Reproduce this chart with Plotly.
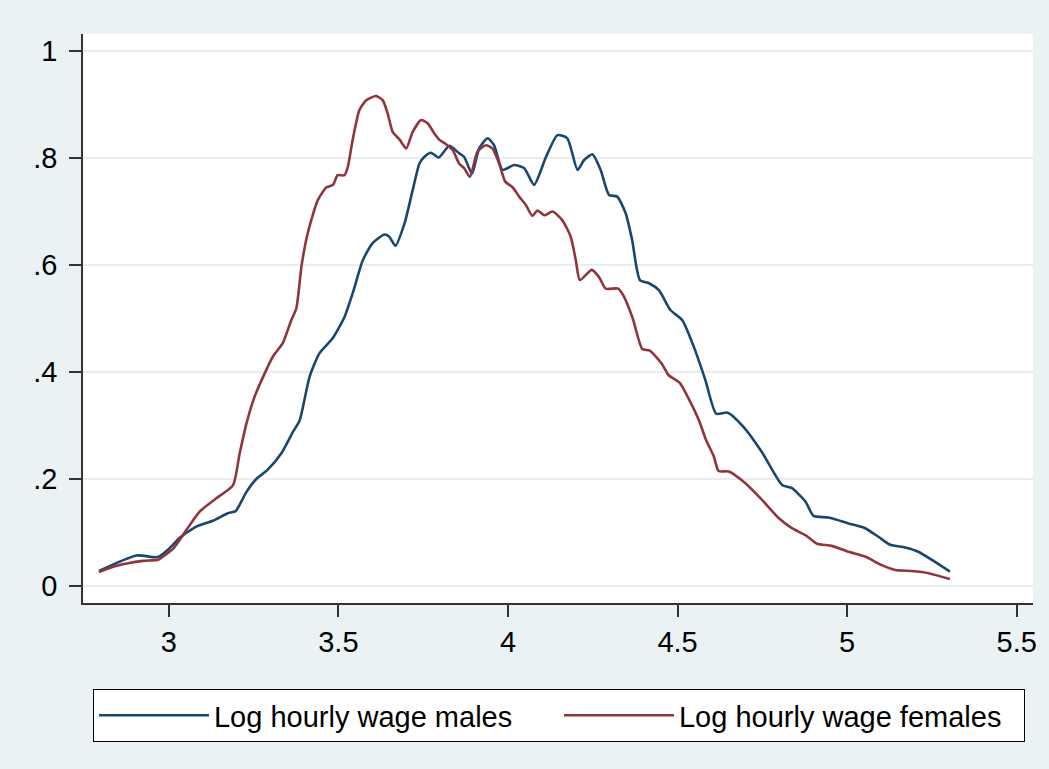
import plotly.graph_objects as go

# Kernel density estimates
male_x = [2.794, 2.905, 2.968, 3.003, 3.032, 3.081, 3.130, 3.174, 3.197, 3.229, 3.258, 3.291,
          3.332, 3.366, 3.386, 3.415, 3.444, 3.483, 3.518, 3.542, 3.572, 3.601, 3.636, 3.650,
          3.668, 3.695, 3.719, 3.739, 3.753, 3.773, 3.796, 3.827, 3.856, 3.871, 3.894, 3.915,
          3.940, 3.959, 3.984, 4.018, 4.048, 4.077, 4.112, 4.146, 4.175, 4.205, 4.224, 4.249,
          4.273, 4.298, 4.322, 4.347, 4.366, 4.389, 4.416, 4.445, 4.479, 4.514, 4.548, 4.582,
          4.614, 4.648, 4.695, 4.749, 4.808, 4.837, 4.877, 4.901, 4.945, 5.004, 5.053, 5.092,
          5.127, 5.171, 5.210, 5.259, 5.303]
male_y = [0.028, 0.057, 0.054, 0.071, 0.090, 0.111, 0.122, 0.136, 0.140, 0.176, 0.200, 0.217,
          0.248, 0.288, 0.310, 0.391, 0.435, 0.463, 0.503, 0.547, 0.609, 0.641, 0.657, 0.653,
          0.636, 0.678, 0.740, 0.790, 0.802, 0.810, 0.801, 0.823, 0.809, 0.802, 0.771, 0.818,
          0.837, 0.824, 0.778, 0.787, 0.781, 0.750, 0.802, 0.843, 0.837, 0.778, 0.796, 0.807,
          0.778, 0.731, 0.728, 0.697, 0.647, 0.572, 0.566, 0.553, 0.516, 0.497, 0.447, 0.385,
          0.322, 0.324, 0.297, 0.250, 0.189, 0.183, 0.158, 0.131, 0.128, 0.117, 0.108, 0.092,
          0.077, 0.072, 0.064, 0.045, 0.027]

female_x = [2.794, 2.836, 2.876, 2.924, 2.969, 2.983, 3.013, 3.052, 3.091, 3.140, 3.189, 3.209,
            3.229, 3.253, 3.278, 3.307, 3.336, 3.361, 3.376, 3.391, 3.405, 3.420, 3.439, 3.464,
            3.484, 3.498, 3.518, 3.528, 3.542, 3.562, 3.582, 3.611, 3.631, 3.645, 3.660, 3.680,
            3.700, 3.719, 3.744, 3.763, 3.783, 3.798, 3.817, 3.837, 3.856, 3.871, 3.888, 3.910,
            3.935, 3.954, 3.974, 3.992, 4.013, 4.033, 4.053, 4.072, 4.087, 4.107, 4.131, 4.160,
            4.185, 4.200, 4.212, 4.247, 4.268, 4.288, 4.325, 4.342, 4.368, 4.396, 4.418, 4.452,
            4.474, 4.506, 4.533, 4.563, 4.584, 4.607, 4.621, 4.651, 4.700, 4.749, 4.798, 4.837,
            4.877, 4.911, 4.955, 5.004, 5.053, 5.102, 5.142, 5.191, 5.240, 5.303]
female_y = [0.026, 0.036, 0.042, 0.047, 0.049, 0.055, 0.070, 0.105, 0.139, 0.164, 0.188, 0.248,
            0.304, 0.354, 0.391, 0.429, 0.454, 0.497, 0.519, 0.597, 0.647, 0.684, 0.721, 0.745,
            0.750, 0.768, 0.768, 0.784, 0.834, 0.890, 0.908, 0.916, 0.908, 0.884, 0.849, 0.835,
            0.818, 0.849, 0.871, 0.865, 0.846, 0.834, 0.826, 0.815, 0.790, 0.781, 0.765, 0.812,
            0.824, 0.818, 0.790, 0.756, 0.746, 0.728, 0.712, 0.692, 0.702, 0.693, 0.700, 0.684,
            0.653, 0.609, 0.572, 0.591, 0.578, 0.556, 0.556, 0.541, 0.500, 0.443, 0.440, 0.417,
            0.394, 0.380, 0.350, 0.310, 0.273, 0.242, 0.215, 0.214, 0.192, 0.161, 0.127, 0.108,
            0.095, 0.079, 0.075, 0.064, 0.055, 0.039, 0.030, 0.028, 0.024, 0.013]

x_ticks = [3, 3.5, 4, 4.5, 5, 5.5]
x_tick_text = ["3", "3.5", "4", "4.5", "5", "5.5"]
y_ticks = [0, 0.2, 0.4, 0.6, 0.8, 1]
y_tick_text = ["0", ".2", ".4", ".6", ".8", "1"]

series_names = ["Log hourly wage males", "Log hourly wage females"]
series_colors = ["#1A476F", "#90353B"]

fig = go.Figure()
fig.add_trace(go.Scatter(x=male_x, y=male_y, mode="lines", name=series_names[0],
                         line=dict(color=series_colors[0], width=2.6, shape="spline", smoothing=0.6)))
fig.add_trace(go.Scatter(x=female_x, y=female_y, mode="lines", name=series_names[1],
                         line=dict(color=series_colors[1], width=2.6, shape="spline", smoothing=0.6)))

axis_font = dict(family="Liberation Sans, Arial, sans-serif", size=29, color="#000000")

fig.update_layout(
    width=1049, height=769,
    paper_bgcolor="#EAF2F3",
    plot_bgcolor="#FFFFFF",
    margin=dict(l=83, r=14, t=34, b=166),
    font=dict(family="Liberation Sans, Arial, sans-serif", color="#000000"),
    xaxis=dict(range=[2.747, 5.548], tickvals=x_ticks, ticktext=x_tick_text,
               showgrid=False, zeroline=False, showline=True, linecolor="#333333", linewidth=1.5,
               ticks="outside", ticklen=12, tickwidth=1.5, tickcolor="#333333",
               tickfont=axis_font),
    yaxis=dict(range=[-0.0318, 1.032], tickvals=y_ticks, ticktext=y_tick_text,
               showgrid=True, gridcolor="#E6EEF0", gridwidth=2, zeroline=False,
               showline=True, linecolor="#333333", linewidth=1.5,
               ticks="outside", ticklen=12, tickwidth=1.5, tickcolor="#333333",
               tickfont=axis_font, ticklabelstandoff=6),
    showlegend=True,
    legend=dict(orientation="h", x=0.0105, xanchor="left", y=-0.151, yanchor="top",
                bgcolor="#FFFFFF", bordercolor="#000000", borderwidth=1,
                font=dict(family="Liberation Sans, Arial, sans-serif", size=29, color="#000000"),
                itemwidth=110, entrywidth=340, entrywidthmode="pixels",
                traceorder="normal"),
)

fig.write_html("out.html",
               config={"displayModeBar": False},
               post_script="document.body.style.margin='0';document.body.style.padding='0';"
                           "document.body.style.overflow='hidden';")
